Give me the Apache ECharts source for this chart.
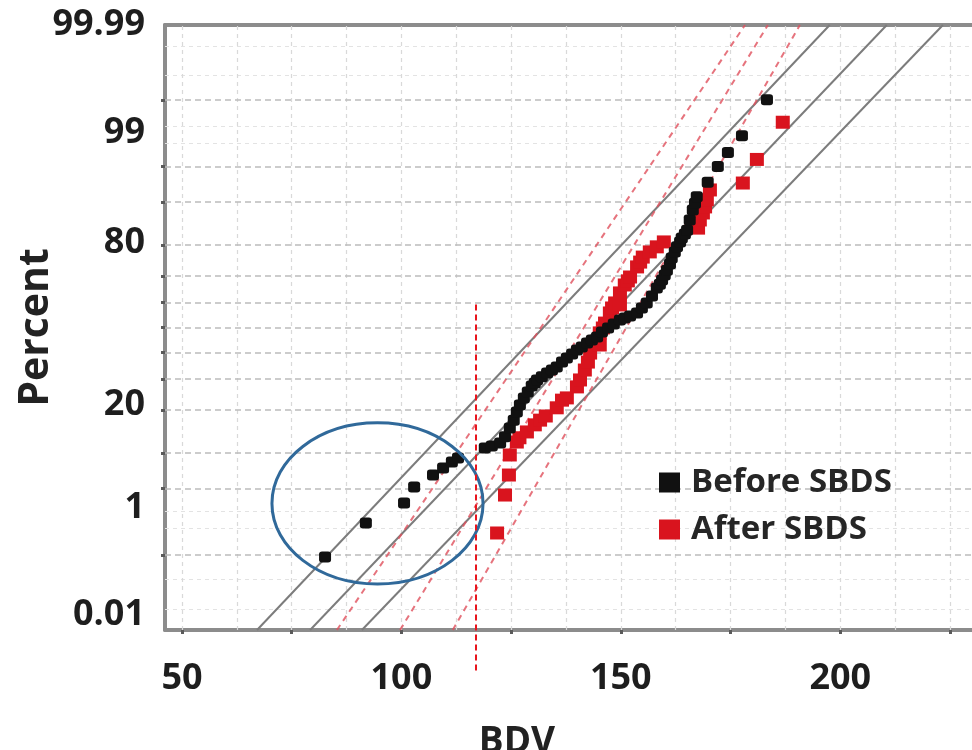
<!DOCTYPE html>
<html>
<head>
<meta charset="utf-8">
<title>BDV probability plot</title>
<script src="https://cdn.jsdelivr.net/npm/echarts@6/dist/echarts.min.js"></script>
<style>
  html, body { margin: 0; padding: 0; background: #ffffff; }
  #chart { width: 972px; height: 750px; }
</style>
</head>
<body>
<div id="chart"></div>
<script>
// Breakdown voltage (BDV) samples with their cumulative percent, before and after SBDS
const beforeBDV = [82.6, 91.9, 100.6, 102.9, 107.2, 109.5, 111.5, 112.9, 119.0, 120.6,
  122.5, 123.6, 124.7, 125.6, 126.3, 127.0, 127.9, 128.8, 129.7, 130.4,
  130.9, 132.0, 133.2, 134.3, 135.4, 136.6, 137.7, 138.9, 140.0, 141.1,
  142.3, 143.4, 144.6, 145.7, 147.1, 148.4, 149.8, 150.9, 152.1, 153.7,
  154.8, 155.9, 157.1, 158.2, 158.9, 159.4, 160.0, 160.5, 161.2, 161.6,
  162.3, 162.8, 163.5, 163.9, 164.6, 165.1, 165.7, 166.4, 166.9, 167.3,
  169.8, 172.1, 174.4, 177.6, 183.3];
const beforePct = [0.95, 2.29, 3.65, 5.17, 6.59, 7.56, 8.47, 9.13, 10.9, 11.3,
  11.9, 13.2, 15.2, 17.2, 19.4, 21.4, 23.6, 25.5, 27.5, 28.5,
  29.6, 30.7, 32.1, 33.2, 34.3, 36.2, 37.8, 39.3, 40.9, 42.1,
  43.7, 44.9, 46.1, 48.2, 49.8, 51.4, 53.1, 53.9, 54.7, 55.9,
  57.9, 59.9, 62.6, 65.7, 67.1, 68.6, 70.4, 72.1, 74.2, 76.1,
  78.0, 79.5, 80.9, 82.0, 83.0, 84.0, 86.4, 88.5, 89.8, 90.9,
  93.1, 95.0, 96.3, 97.5, 99.0];

const afterBDV = [121.8, 123.6, 124.5, 124.7, 126.3, 126.9, 128.6, 130.4, 131.6, 132.9,
  135.4, 136.6, 137.7, 140.0, 140.7, 141.8, 142.5, 143.0, 144.1, 145.2,
  145.2, 145.9, 146.4, 147.5, 148.0, 148.7, 149.8, 149.8, 150.9, 151.6,
  152.1, 153.7, 154.4, 155.0, 156.6, 158.2, 159.8, 167.6, 168.0, 168.7,
  169.2, 169.6, 170.3, 177.8, 181.0, 186.9];
const afterPct = [1.79, 4.35, 6.59, 9.64, 12.1, 13.0, 14.3, 16.0, 17.2, 18.3,
  20.6, 22.9, 23.6, 27.2, 29.6, 33.2, 36.2, 39.7, 43.7, 42.9,
  47.8, 49.8, 51.8, 55.9, 57.9, 59.9, 59.1, 63.8, 66.8, 68.3,
  69.7, 73.2, 74.8, 76.4, 78.0, 79.5, 80.9, 84.5, 86.4, 87.9,
  89.1, 90.4, 92.0, 93.0, 95.7, 98.2];

// Fitted lines and bounds: BDV where each line meets 0.1 % and 99.9 %
const linePercentEnds = [0.1, 99.9];
const beforeLines = [[67.1, 197.6], [79.2, 210.6], [91.0, 223.4]];
const afterLines = [[111.7, 190.8], [99.7, 183.5], [85.3, 178.3]];

// Axis ticks, labels and grid
const xTicks = [50, 75, 100, 125, 150, 175, 200, 225];
const xLabels = [50, 100, 150, 200];
const xGrid = [50, 62.5, 75, 87.5, 100, 112.5, 125, 137.5, 150, 162.5, 175, 187.5, 200, 212.5, 225];
const gridPercents = [1, 5, 10, 20, 30, 40, 50, 60, 70, 80, 90, 95, 99];
const minorPercents = [0.2, 0.5, 2, 3, 97, 98, 99.5, 99.8];
const yTickLabels = ['0.01', '1', '20', '80', '99', '99.99'];

// where the percent labels sit along the axis (normal-score units)
const yLabelAt = [-2.937, -1.844, -0.79, 0.863, 1.987, 3.09];

// annotations: circled low-BDV region and a marker at 117 kV
const circledBDV = [70.5, 118.6];
const circledPct = [0.44, 16.5];
const markerBDV = 117.0;
const markerPct = [0.023, 59.9];

// inverse of the standard normal CDF (Acklam)
function probit(p) {
  const a = [-3.969683028665376e+01, 2.209460984245205e+02, -2.759285104469687e+02, 1.383577518672690e+02, -3.066479806614716e+01, 2.506628277459239e+00];
  const b = [-5.447609879822406e+01, 1.615858368580409e+02, -1.556989798598866e+02, 6.680131188771972e+01, -1.328068155288572e+01];
  const c = [-7.784894002430293e-03, -3.223964580411365e-01, -2.400758277161838e+00, -2.549732539343734e+00, 4.374664141464968e+00, 2.938163982698783e+00];
  const d = [7.784695709041462e-03, 3.224671290700398e-01, 2.445134137142996e+00, 3.754408661907416e+00];
  const pl = 0.02425, ph = 1 - pl;
  let q, r;
  if (p < pl) {
    q = Math.sqrt(-2 * Math.log(p));
    return (((((c[0]*q+c[1])*q+c[2])*q+c[3])*q+c[4])*q+c[5]) / ((((d[0]*q+d[1])*q+d[2])*q+d[3])*q+1);
  }
  if (p > ph) {
    q = Math.sqrt(-2 * Math.log(1 - p));
    return -(((((c[0]*q+c[1])*q+c[2])*q+c[3])*q+c[4])*q+c[5]) / ((((d[0]*q+d[1])*q+d[2])*q+d[3])*q+1);
  }
  q = p - 0.5; r = q * q;
  return (((((a[0]*r+a[1])*r+a[2])*r+a[3])*r+a[4])*r+a[5])*q / (((((b[0]*r+b[1])*r+b[2])*r+b[3])*r+b[4])*r+1);
}
const nscore = pct => probit(pct / 100);

const FONT = '"Open Sans", "Noto Sans", Lato, sans-serif';
const X_MIN = 46.13, X_MAX = 232.3;
const Y_MIN = nscore(0.1), Y_MAX = nscore(99.9);
const FRAME = { show: true, onZero: false, lineStyle: { color: '#8c8c8c', width: 4 } };

const hLines = (list) => list.map(p => ({ coords: [[X_MIN, nscore(p)], [X_MAX, nscore(p)]] }));
const vLines = xGrid.map(v => ({ coords: [[v, Y_MIN], [v, Y_MAX]] }));
const fitLines = (list) => list.map(([lo, hi]) => ({
  coords: [[lo, nscore(linePercentEnds[0])], [hi, nscore(linePercentEnds[1])]]
}));

const chart = echarts.init(document.getElementById('chart'), null, { renderer: 'canvas' });

chart.setOption({
  animation: false,
  backgroundColor: '#ffffff',
  grid: {
    left: 165, top: 25, right: -10, bottom: 120,
    containLabel: false, outerBoundsMode: 'none', show: false
  },
  legend: {
    data: ['Before SBDS', 'After SBDS'],
    orient: 'vertical',
    left: 654, top: 461,
    itemWidth: 21, itemHeight: 20, itemGap: 14,
    icon: 'rect',
    textStyle: { fontFamily: FONT, fontWeight: 'bold', fontSize: 33, color: '#262626', lineHeight: 32, padding: [0, 0, 0, 6] }
  },
  xAxis: [
    {
      type: 'value', min: X_MIN, max: X_MAX, position: 'bottom',
      axisLine: FRAME,
      axisTick: { show: true, customValues: xTicks, length: 4, lineStyle: { color: '#5a5a5a', width: 3 } },
      axisLabel: {
        customValues: xLabels, margin: 31,
        fontFamily: FONT, fontWeight: 'bold', fontSize: 36, lineHeight: 36, color: '#1e1e1e'
      },
      splitLine: { show: false }
    },
    {
      type: 'value', min: X_MIN, max: X_MAX, position: 'top',
      axisLine: FRAME, axisTick: { show: false }, axisLabel: { show: false }, splitLine: { show: false }
    }
  ],
  yAxis: {
    type: 'value', min: Y_MIN, max: Y_MAX,
    name: 'Percent', nameLocation: 'middle', nameRotate: 90, nameGap: 108, nameMoveOverlap: false,
    nameTextStyle: { fontFamily: FONT, fontWeight: 'bold', fontSize: 41, color: '#222' },
    axisLine: FRAME,
    axisTick: { show: true, customValues: gridPercents.map(nscore), length: 4, lineStyle: { color: '#5a5a5a', width: 3 } },
    axisLabel: {
      customValues: yLabelAt, margin: 20,
      fontFamily: FONT, fontWeight: 'bold', fontSize: 36, color: '#1e1e1e',
      formatter: (v) => {
        let best = 0;
        yLabelAt.forEach((p, i) => { if (Math.abs(p - v) < Math.abs(yLabelAt[best] - v)) best = i; });
        return yTickLabels[best];
      }
    },
    splitLine: { show: false }
  },
  series: [
    {
      type: 'lines', coordinateSystem: 'cartesian2d', silent: true, z: 1,
      data: hLines(minorPercents),
      lineStyle: { color: '#e3e3e3', width: 1, type: [4, 4], opacity: 1 }
    },
    {
      type: 'lines', coordinateSystem: 'cartesian2d', silent: true, z: 1,
      data: vLines,
      lineStyle: { color: '#d9d9d9', width: 1.2, type: [4, 4], opacity: 1 }
    },
    {
      type: 'lines', coordinateSystem: 'cartesian2d', silent: true, z: 1,
      data: hLines(gridPercents),
      lineStyle: { color: '#bcbcbc', width: 1.6, type: [6, 4], opacity: 1 }
    },
    {
      type: 'lines', coordinateSystem: 'cartesian2d', silent: true, z: 2,
      data: fitLines(beforeLines),
      lineStyle: { color: '#7c7c7c', width: 2, type: 'solid', opacity: 1 }
    },
    {
      type: 'lines', coordinateSystem: 'cartesian2d', silent: true, z: 2,
      data: fitLines(afterLines),
      lineStyle: { color: '#e0505c', width: 2, type: [6, 5], opacity: 0.8 }
    },
    {
      name: 'Before SBDS', type: 'scatter', z: 4,
      symbol: 'roundRect', symbolSize: [12, 11],
      itemStyle: { color: '#111111', opacity: 1 },
      data: beforeBDV.map((v, i) => [v, nscore(beforePct[i])])
    },
    {
      name: 'After SBDS', type: 'scatter', z: 3,
      symbol: 'rect', symbolSize: [14, 13],
      itemStyle: { color: '#d9141e', opacity: 1 },
      data: afterBDV.map((v, i) => [v, nscore(afterPct[i])])
    }
  ]
});

// annotations placed through the chart's own coordinate conversion
const px = (bdv, pct) => chart.convertToPixel({ gridIndex: 0 }, [bdv, nscore(pct)]);
const e0 = px(circledBDV[0], circledPct[0]);
const e1 = px(circledBDV[1], circledPct[1]);
const m0 = px(markerBDV, markerPct[0]);
const m1 = px(markerBDV, markerPct[1]);

chart.setOption({
  graphic: [
    {
      type: 'ellipse', z: 50, silent: true,
      shape: { cx: (e0[0] + e1[0]) / 2, cy: (e0[1] + e1[1]) / 2, rx: Math.abs(e1[0] - e0[0]) / 2, ry: Math.abs(e1[1] - e0[1]) / 2 },
      style: { fill: 'none', stroke: '#30699a', lineWidth: 3 }
    },
    {
      type: 'line', z: 50, silent: true,
      shape: { x1: m0[0], y1: m0[1], x2: m1[0], y2: m1[1] },
      style: { stroke: '#e8141c', lineWidth: 2, lineDash: [6, 4] }
    },
    {
      type: 'text', z: 50, silent: true,
      x: 517, y: 724,
      style: { text: 'BDV', font: 'bold 37px ' + FONT, fill: '#222', align: 'center', verticalAlign: 'top' }
    }
  ]
});
</script>
</body>
</html>
